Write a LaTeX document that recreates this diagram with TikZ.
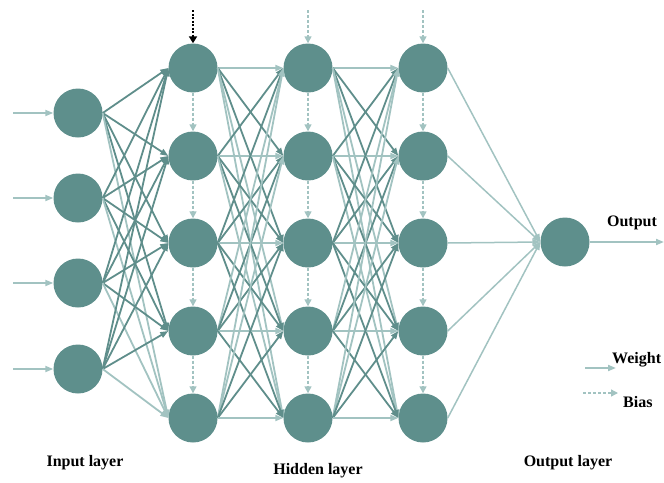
\documentclass[tikz,border=0pt]{standalone}
\usepackage{fontspec}
\setmainfont{Liberation Serif}
\usetikzlibrary{arrows.meta}
\definecolor{nodefill}{HTML}{5E8F8C}
\definecolor{darkedge}{HTML}{5F8E8B}
\definecolor{lightedge}{HTML}{A2C3C1}
\begin{document}
\begin{tikzpicture}[x=1pt,y=-1pt,
  neuron/.style={circle,fill=nodefill,draw=none,minimum size=49pt,inner sep=0pt},
  wdark/.style={draw=darkedge,line width=1.8pt,-{Triangle[length=8pt,width=6pt]}},
  wlight/.style={draw=lightedge,line width=1.8pt,-{Triangle[length=8pt,width=6pt]}},
  biasline/.style={draw=lightedge,line width=1.4pt,dash pattern=on 3pt off 2pt,-{Triangle[length=7pt,width=7pt]}},
  biasblack/.style={draw=black,line width=2.2pt,dash pattern=on 2pt off 1.5pt,-{Triangle[length=7pt,width=8pt]}},
  lbl/.style={font=\fontsize{16}{19}\selectfont\bfseries,inner sep=0pt}]
\useasboundingbox (0,0) rectangle (664,482);
% input layer
\foreach \i/\y in {1/113,2/198,3/283,4/369}{
  \node[neuron] (in\i) at (78,\y) {};
  \coordinate (src\i) at (13,\y);
  \draw[wlight] (src\i) -- (in\i.west);
}
% hidden layers
\foreach \c/\x in {1/193,2/308,3/423}{
  \foreach \j/\y in {1/68,2/156,3/243,4/331,5/418}{
    \node[neuron] (h\c-\j) at (\x,\y) {};
  }
}
\node[neuron] (out) at (565,242) {};
% input -> hidden 1
\foreach \i in {1,...,4}{
  \foreach \j in {1,...,4}{
    \draw[wdark] (in\i.east) -- (h1-\j.west);
  }
  \draw[wlight] (in\i.east) -- (h1-5.west);
}
% hidden -> hidden
\foreach \a/\b in {1/2,2/3}{
  \foreach \i in {1,...,5}{
    \foreach \j in {1,...,5}{
      \pgfmathtruncatemacro{\d}{abs(\i-\j)}
      \ifnum\d=0
        \draw[wlight] (h\a-\i.east) -- (h\b-\j.west);
      \else\ifnum\d>2
        \draw[wlight] (h\a-\i.east) -- (h\b-\j.west);
      \else
        \draw[wdark] (h\a-\i.east) -- (h\b-\j.west);
      \fi\fi
    }
  }
}
% hidden 3 -> output
\foreach \j in {1,...,5}{
  \draw[wlight,line width=1.5pt] (h3-\j.east) -- (out.west);
}
\coordinate (outend) at (664,242);
\draw[wlight] (out.east) -- (outend);
% biases
\coordinate (b1) at (193,10);
\coordinate (b2) at (308,10);
\coordinate (b3) at (423,10);
\draw[biasblack] (b1) -- (h1-1.north);
\draw[biasline] (b2) -- (h2-1.north);
\draw[biasline] (b3) -- (h3-1.north);
\foreach \c in {1,2,3}{
  \foreach \j/\k in {1/2,2/3,3/4,4/5}{
    \draw[biasline] (h\c-\j.south) -- (h\c-\k.north);
  }
}
% labels
\node[lbl] (tout) at (632,223) {Output};
\node[lbl] (tin) at (85,463) {Input layer};
\node[lbl] (thid) at (318,471) {Hidden layer};
\node[lbl] (tol) at (568,463) {Output layer};
% legend
\coordinate (lw1) at (585,368);
\coordinate (lw2) at (616,368);
\draw[wlight] (lw1) -- (lw2);
\node[lbl,anchor=west] (tw) at (612,360) {Weight};
\coordinate (lb1) at (583,393);
\coordinate (lb2) at (618,393);
\draw[biasline] (lb1) -- (lb2);
\node[lbl,anchor=west] (tb) at (623,402) {Bias};
\end{tikzpicture}
\end{document}
